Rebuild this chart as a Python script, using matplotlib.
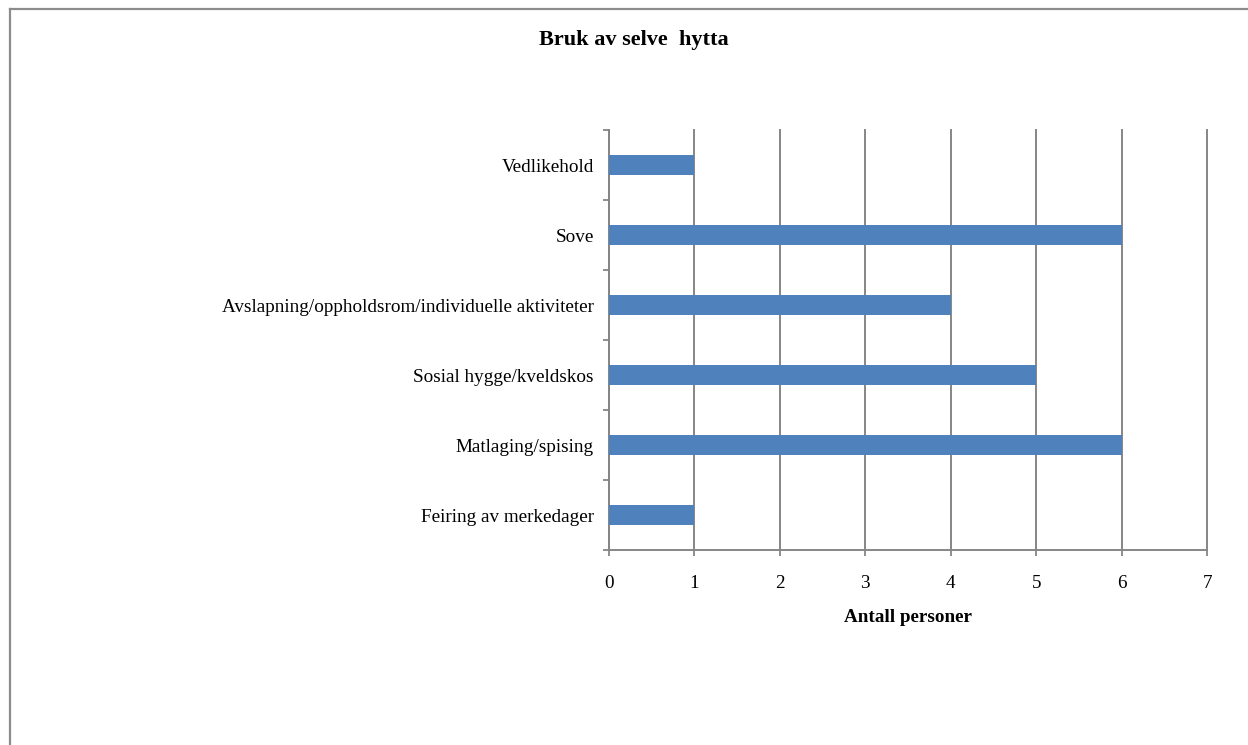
import matplotlib
matplotlib.use("Agg")
import matplotlib.pyplot as plt
from matplotlib.lines import Line2D

categories = ["Feiring av merkedager", "Matlaging/spising", "Sosial hygge/kveldskos",
              "Avslapning/oppholdsrom/individuelle aktiviteter", "Sove", "Vedlikehold"]
values = [1, 6, 5, 4, 6, 1]
xticks = [0, 1, 2, 3, 4, 5, 6, 7]

plt.rcParams['font.family'] = ['Liberation Serif', 'DejaVu Serif']

fig = plt.figure(figsize=(12.48, 7.45), dpi=100)
ax = fig.add_axes([609/1248, 1-550/745, (1207-609)/1248, (550-130)/745])

grid_c = '#868686'
fs = 13.8
ypos = list(range(len(categories)))
ax.barh(ypos, values, height=0.28, color='#4F81BD', zorder=3)

ax.set_xlim(0, 7)
ax.set_ylim(-0.5, len(categories)-0.5)
ax.set_xticks(xticks)
ax.set_xticklabels([str(t) for t in xticks], fontsize=fs)
ax.set_yticks(ypos)
ax.set_yticklabels(categories, fontsize=fs)
ax.set_yticks([i-0.5 for i in range(len(categories)+1)], minor=True)
ax.tick_params(axis='y', which='major', length=0, pad=11)
ax.tick_params(axis='y', which='minor', length=4, width=1.3, color=grid_c, direction='out')
ax.tick_params(axis='x', which='major', length=4, width=1.3, color=grid_c, direction='out', pad=14)
ax.xaxis.grid(True, color=grid_c, linewidth=1.4, zorder=0)
for gl in ax.get_xgridlines():
    gl.set_clip_on(False)
ax.set_axisbelow(True)
for s in ['top', 'right']:
    ax.spines[s].set_visible(False)
for s in ['left', 'bottom']:
    ax.spines[s].set_color(grid_c)
    ax.spines[s].set_linewidth(1.4)

ax.set_xlabel("Antall personer", fontsize=fs, fontweight='bold', labelpad=12)

fig.text(634/1248, 1-40/745, "Bruk av selve  hytta", ha='center', va='center',
         fontsize=16, fontweight='bold')

# outer chart frame (top and left edges visible)
fig.add_artist(Line2D([10/1248, 1.0], [1-9/745, 1-9/745], transform=fig.transFigure,
                      color='#8c8c8c', linewidth=1.6))
fig.add_artist(Line2D([10/1248, 10/1248], [0, 1-9/745], transform=fig.transFigure,
                      color='#8c8c8c', linewidth=1.6))

fig.savefig("out.png", dpi=100, facecolor='white')
